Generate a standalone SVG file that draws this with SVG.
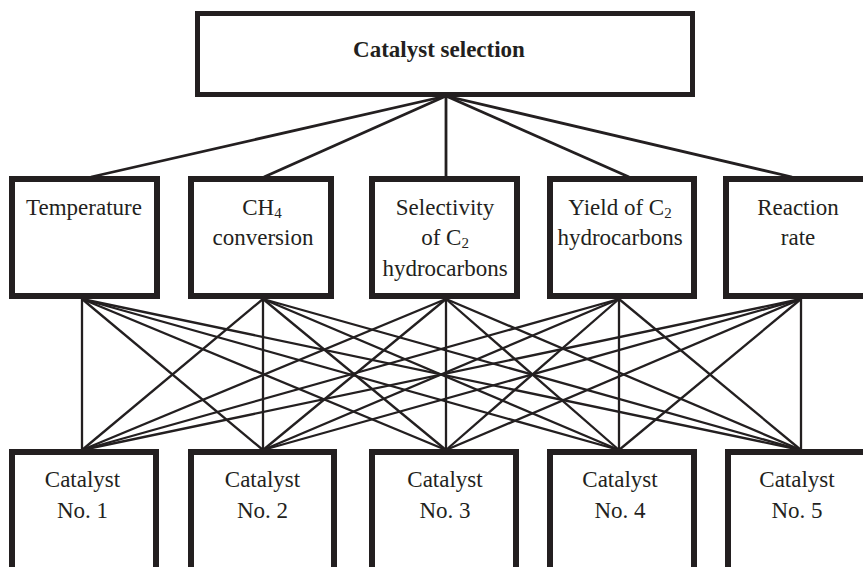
<svg xmlns="http://www.w3.org/2000/svg" width="863" height="567" viewBox="0 0 863 567">
<style>
.box{fill:#fff;stroke:#231f20;stroke-width:6}
.top{fill:#fff;stroke:#231f20;stroke-width:5}
.t{font-family:"Liberation Serif","Times New Roman",serif;font-size:23px;fill:#231f20;text-anchor:middle}
.b{font-weight:bold}
.sub{font-size:15px}
.c1 line{stroke:#231f20;stroke-width:2.8}
.c2 line{stroke:#231f20;stroke-width:2.3}
</style>
<rect width="863" height="567" fill="#fff"/>
<g id="connectors">
<g class="c1">
<line x1="446" y1="96" x2="91" y2="177"/>
<line x1="446" y1="96" x2="264" y2="177"/>
<line x1="446" y1="96" x2="446" y2="177"/>
<line x1="446" y1="96" x2="629" y2="177"/>
<line x1="446" y1="96" x2="792" y2="177"/>
</g>
<g class="c2">
<line x1="82" y1="299" x2="82" y2="450"/>
<line x1="82" y1="299" x2="263" y2="450"/>
<line x1="82" y1="299" x2="446" y2="450"/>
<line x1="82" y1="299" x2="619" y2="450"/>
<line x1="82" y1="299" x2="801" y2="450"/>
<line x1="263" y1="299" x2="82" y2="450"/>
<line x1="263" y1="299" x2="263" y2="450"/>
<line x1="263" y1="299" x2="446" y2="450"/>
<line x1="263" y1="299" x2="619" y2="450"/>
<line x1="263" y1="299" x2="801" y2="450"/>
<line x1="446" y1="299" x2="82" y2="450"/>
<line x1="446" y1="299" x2="263" y2="450"/>
<line x1="446" y1="299" x2="446" y2="450"/>
<line x1="446" y1="299" x2="619" y2="450"/>
<line x1="446" y1="299" x2="801" y2="450"/>
<line x1="619" y1="299" x2="82" y2="450"/>
<line x1="619" y1="299" x2="263" y2="450"/>
<line x1="619" y1="299" x2="446" y2="450"/>
<line x1="619" y1="299" x2="619" y2="450"/>
<line x1="619" y1="299" x2="801" y2="450"/>
<line x1="801" y1="299" x2="82" y2="450"/>
<line x1="801" y1="299" x2="263" y2="450"/>
<line x1="801" y1="299" x2="446" y2="450"/>
<line x1="801" y1="299" x2="619" y2="450"/>
<line x1="801" y1="299" x2="801" y2="450"/>
</g>
</g>
<g id="catalyst-selection">
<rect class="top" x="197.5" y="13.5" width="495" height="81"/>
<text class="t b" x="439" y="57">Catalyst selection</text>
</g>
<g id="temperature">
<rect class="box" x="12" y="179" width="145" height="117"/>
<text class="t" x="84" y="215">Temperature</text>
</g>
<g id="ch4-conversion">
<rect class="box" x="191" y="179" width="140" height="117"/>
<text class="t" x="262" y="215">CH<tspan class="sub" dy="3">4</tspan></text>
<text class="t" x="263" y="245">conversion</text>
</g>
<g id="selectivity">
<rect class="box" x="372" y="179" width="145" height="117"/>
<text class="t" x="445" y="215">Selectivity</text>
<text class="t" x="445" y="245">of C<tspan class="sub" dy="3">2</tspan></text>
<text class="t" x="445" y="276">hydrocarbons</text>
</g>
<g id="yield">
<rect class="box" x="550" y="179" width="144" height="117"/>
<text class="t" x="620" y="215">Yield of C<tspan class="sub" dy="3">2</tspan></text>
<text class="t" x="620" y="245">hydrocarbons</text>
</g>
<g id="reaction-rate">
<rect class="box" x="726" y="179" width="144" height="117"/>
<text class="t" x="798" y="215">Reaction</text>
<text class="t" x="798" y="245">rate</text>
</g>
<g id="catalyst-1">
<rect class="box" x="12" y="452" width="144" height="130"/>
<text class="t" x="82.5" y="487">Catalyst</text>
<text class="t" x="82.5" y="518">No. 1</text>
</g>
<g id="catalyst-2">
<rect class="box" x="191" y="452" width="143" height="130"/>
<text class="t" x="262.5" y="487">Catalyst</text>
<text class="t" x="262.5" y="518">No. 2</text>
</g>
<g id="catalyst-3">
<rect class="box" x="372" y="452" width="144" height="130"/>
<text class="t" x="445" y="487">Catalyst</text>
<text class="t" x="445" y="518">No. 3</text>
</g>
<g id="catalyst-4">
<rect class="box" x="550" y="452" width="144" height="130"/>
<text class="t" x="620" y="487">Catalyst</text>
<text class="t" x="620" y="518">No. 4</text>
</g>
<g id="catalyst-5">
<rect class="box" x="728" y="452" width="144" height="130"/>
<text class="t" x="797" y="487">Catalyst</text>
<text class="t" x="797" y="518">No. 5</text>
</g>
</svg>
